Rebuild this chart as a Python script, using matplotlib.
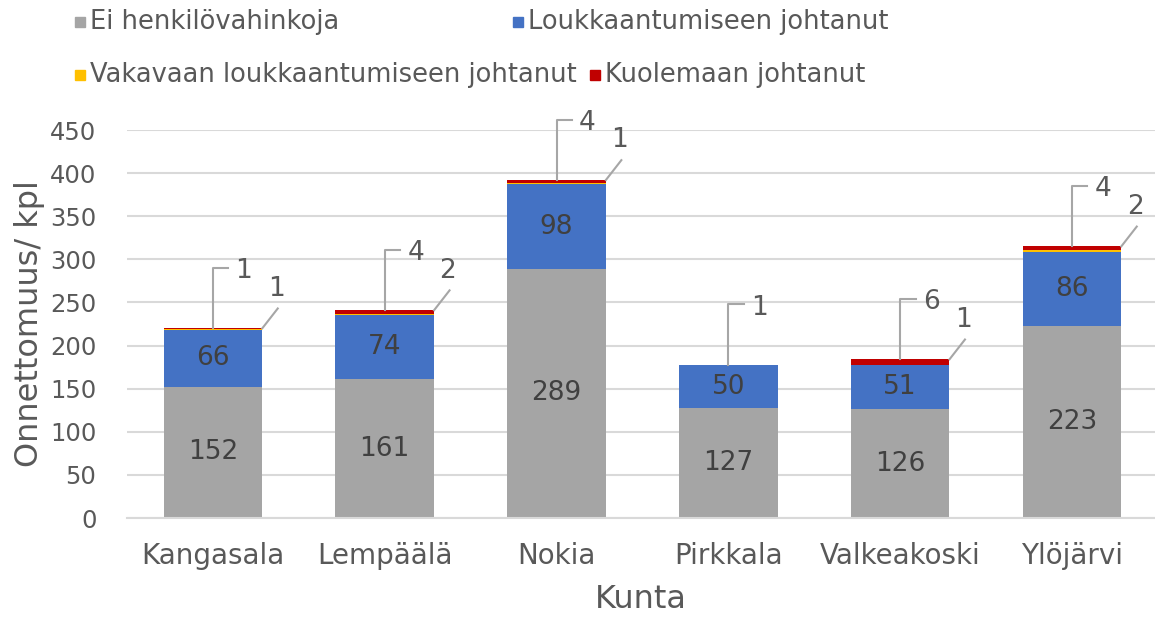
import matplotlib
matplotlib.use('Agg')
import matplotlib.pyplot as plt
from matplotlib.patches import Rectangle

plt.rcParams['font.family'] = ['DejaVu Sans']

# data
kunnat = ['Kangasala', 'Lempäälä', 'Nokia', 'Pirkkala', 'Valkeakoski', 'Ylöjärvi']
ei_henkilo = [152, 161, 289, 127, 126, 223]
loukkaantuminen = [66, 74, 98, 50, 51, 86]
vakava = [1, 2, 1, 1, 1, 2]
kuolema = [1, 4, 4, 0, 6, 4]

sarjat = ['Ei henkilövahinkoja', 'Loukkaantumiseen johtanut',
          'Vakavaan loukkaantumiseen johtanut', 'Kuolemaan johtanut']
varit = ['#A5A5A5', '#4472C4', '#FFC000', '#C00000']
tekstivari = '#595959'

fig = plt.figure(figsize=(11.55, 6.18), dpi=100)
ax = fig.add_axes([127 / 1155, 1 - 518 / 618, 1028 / 1155, 388 / 618])

x = list(range(len(kunnat)))
leveys = 0.575
pohja = [0] * len(kunnat)
for arvot, vari in zip([ei_henkilo, loukkaantuminen, vakava, kuolema], varit):
    ax.bar(x, arvot, leveys, bottom=pohja, color=vari, zorder=2)
    pohja = [p + a for p, a in zip(pohja, arvot)]

# arvot palkkien sisään
for i in x:
    ax.text(i, ei_henkilo[i] / 2, str(ei_henkilo[i]), ha='center', va='center',
            fontsize=19, color='#404040', zorder=3)
    ax.text(i, ei_henkilo[i] + loukkaantuminen[i] / 2, str(loukkaantuminen[i]),
            ha='center', va='center', fontsize=19, color='#404040', zorder=3)

# pienten sarjojen selitelaatikot
for i in x:
    yla = pohja[i]
    if kuolema[i] > 0:
        ylempi, oikea = kuolema[i], vakava[i]
    else:
        ylempi, oikea = vakava[i], None
    ax.plot([i, i, i + 0.09], [yla, yla + 70, yla + 70], color='#A6A6A6', lw=1.5,
            zorder=3, clip_on=False)
    ax.text(i + 0.18, yla + 66, str(ylempi), ha='center', va='center',
            fontsize=19, color=tekstivari)
    if oikea is not None:
        xo = i + leveys / 2
        ax.plot([xo, xo + 0.09], [yla, yla + 23], color='#A6A6A6', lw=1.5,
                zorder=3, clip_on=False)
        ax.text(xo + 0.08, yla + 46, str(oikea), ha='center', va='center',
                fontsize=19, color=tekstivari)

ax.set_ylim(0, 450)
ax.set_xlim(-0.5, -0.5 + 1028 / 171.8)
ax.set_yticks(range(0, 451, 50))
ax.set_xticks(x)
ax.set_xticklabels(kunnat)
ax.yaxis.grid(True, color='#D9D9D9', lw=1.5, zorder=0)
ax.set_axisbelow(True)
for s in ['top', 'right', 'left']:
    ax.spines[s].set_visible(False)
ax.spines['bottom'].set_color('#D9D9D9')
ax.spines['bottom'].set_linewidth(1.5)
ax.tick_params(axis='both', length=0, colors=tekstivari)
ax.tick_params(axis='x', labelsize=20, pad=17)
ax.tick_params(axis='y', labelsize=17.5, pad=22)
ax.set_xlabel('Kunta', fontsize=23, color=tekstivari, labelpad=10)
ax.set_ylabel('Onnettomuus/ kpl', fontsize=23, color=tekstivari, labelpad=4)

# selite
paikat = [(75, 22), (513, 22), (75, 75), (590, 75)]
for (px, py), nimi, vari in zip(paikat, sarjat, varit):
    fig.patches.append(Rectangle((px / 1155, 1 - (py + 5) / 618), 10 / 1155, 10 / 618,
                                 transform=fig.transFigure, color=vari))
    fig.text((px + 15) / 1155, 1 - py / 618, nimi, fontsize=18.5, color=tekstivari,
             va='center', ha='left')

fig.savefig('out.png', dpi=100)
